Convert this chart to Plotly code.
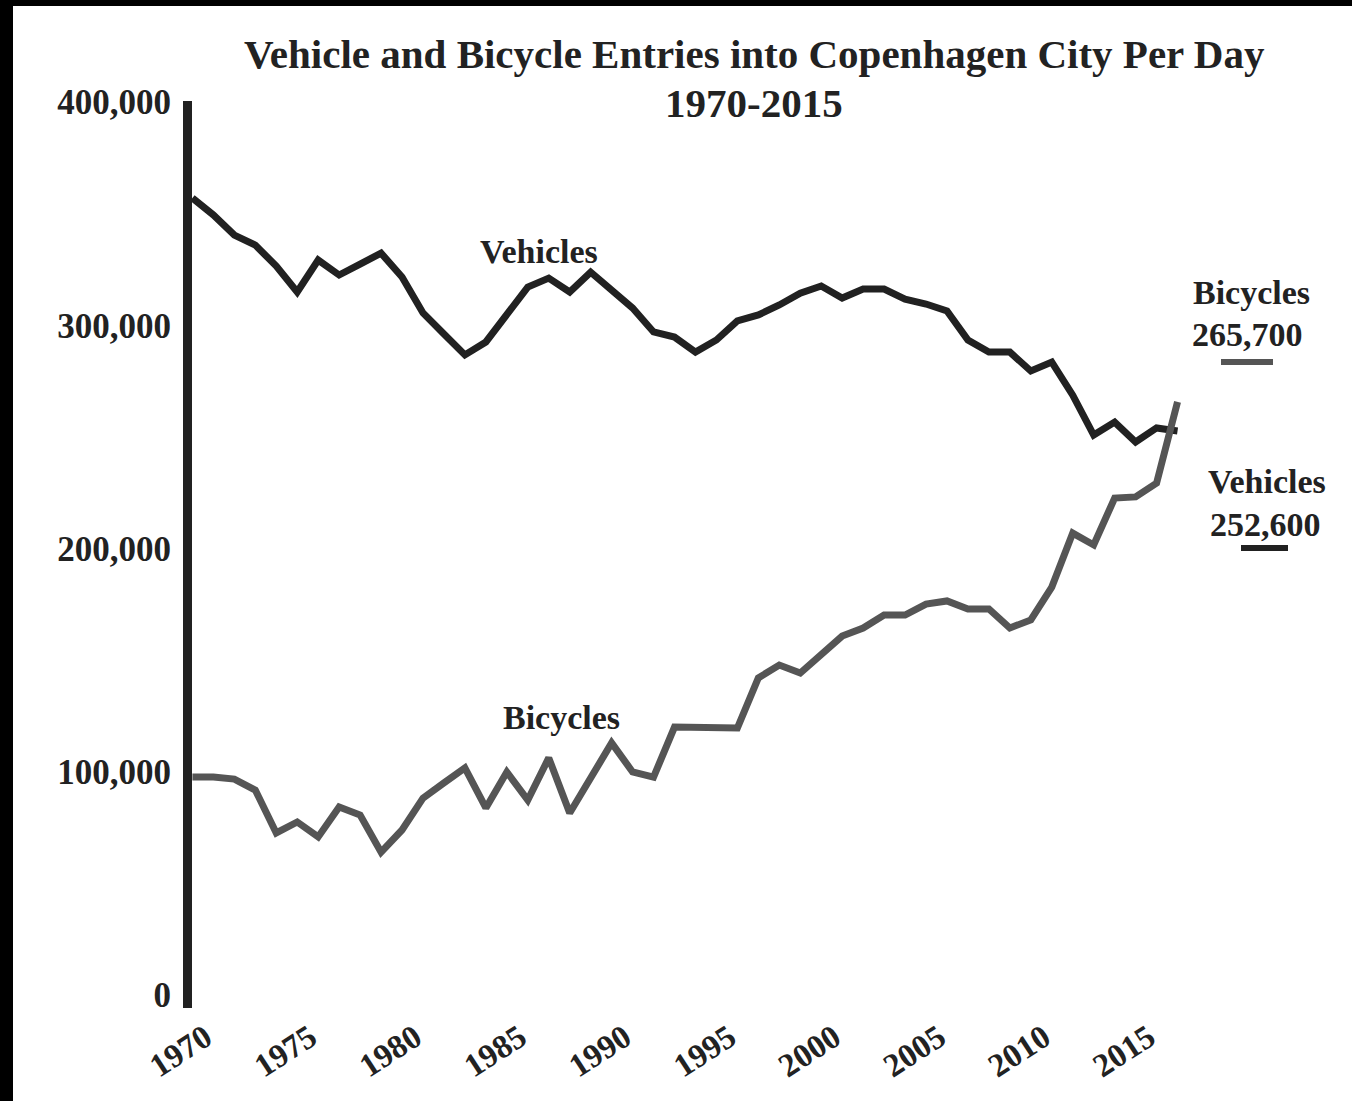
import plotly.graph_objects as go

# ---------------- data ----------------
years = list(range(1970, 2018))
vehicles = [357000, 349400, 340400, 335900, 326500, 314900, 329200, 322500, 327400, 332300,
            321600, 305500, 296100, 286700, 292500, 305000, 317100, 321100, 314900, 323800,
            316200, 307700, 297000, 294700, 288000, 293400, 301900, 304600, 309100, 314400,
            317600, 312200, 316200, 316200, 311700, 309500, 306400, 293400, 288000, 288000,
            279500, 283500, 268700, 250800, 256600, 247700, 254000, 252600]
bicycles = [97600, 97600, 96700, 91800, 72600, 77500, 70800, 84200, 80600, 64000,
            73900, 88200, 95000, 101700, 83800, 99900, 87300, 106200, 81500, 97200,
            112900, 99900, 97600, 120000, 120000, 120000, 119600, 142000, 147800, 144200,
            152700, 160800, 164400, 170200, 170200, 175100, 176500, 172900, 172900, 164400,
            168000, 182700, 206900, 201600, 222600, 223100, 229300, 265700]
x_tick_years = [1970, 1975, 1980, 1985, 1990, 1995, 2000, 2005, 2010, 2015]
y_tick_values = [0, 100000, 200000, 300000, 400000]
y_tick_labels = ["0", "100,000", "200,000", "300,000", "400,000"]
title_line1 = "Vehicle and Bicycle Entries into Copenhagen City Per Day"
title_line2 = "1970-2015"
series_names = ["Vehicles", "Bicycles"]

# ---------------- style ----------------
VEH_COLOR = "#212121"
BIC_COLOR = "#555555"
TXT = "#222222"
FONT = "Liberation Serif"

W, H = 1352, 1101
ML, MR, MT, MB = 192, 12, 101, 93
PW = W - ML - MR
PH = H - MT - MB

fig = go.Figure()
fig.add_trace(go.Scatter(x=years, y=vehicles, mode="lines", name=series_names[0],
                         line=dict(color=VEH_COLOR, width=7), showlegend=False))
fig.add_trace(go.Scatter(x=years, y=bicycles, mode="lines", name=series_names[1],
                         line=dict(color=BIC_COLOR, width=7), showlegend=False))

def px_to_paper_x(px):
    return (px - ML) / PW

def px_to_paper_y(py):
    return (H - MB - py) / PH

shapes = [
    # white page with black frame on the top and left
    dict(type="rect", xref="paper", yref="paper",
         x0=px_to_paper_x(13), x1=px_to_paper_x(1380),
         y0=px_to_paper_y(1130), y1=px_to_paper_y(6),
         fillcolor="white", line=dict(width=0), layer="below"),
    # legend keys
    dict(type="line", xref="paper", yref="paper",
         x0=px_to_paper_x(1221), x1=px_to_paper_x(1273),
         y0=px_to_paper_y(362), y1=px_to_paper_y(362),
         line=dict(color=BIC_COLOR, width=6)),
    dict(type="line", xref="paper", yref="paper",
         x0=px_to_paper_x(1241), x1=px_to_paper_x(1288),
         y0=px_to_paper_y(548), y1=px_to_paper_y(548),
         line=dict(color=VEH_COLOR, width=6)),
]

def ann(text, px, py, size):
    return dict(text=text, xref="paper", yref="paper",
                x=px_to_paper_x(px), y=px_to_paper_y(py),
                xanchor="center", yanchor="middle", showarrow=False,
                font=dict(family=FONT, size=size, color=TXT, weight="bold"))

annotations = [
    ann(title_line1, 754, 54, 41),
    ann(title_line2, 754, 103, 41),
    ann(series_names[0], 539, 252, 34),
    ann(series_names[1], 561, 717, 34),
    ann(series_names[1], 1251, 292, 34),
    ann(f"{bicycles[-1]:,}", 1247, 334, 34),
    ann(series_names[0], 1267, 481, 34),
    ann(f"{vehicles[-1]:,}", 1265, 524, 34),
]

px_per_year = 20.96
x0 = years[0] - 0.02
x1 = x0 + PW / px_per_year
px_per_unit = (995 - 102) / 400000
y0 = -(1008 - 995) / px_per_unit
y1 = y0 + PH / px_per_unit

fig.update_layout(
    width=W, height=H, autosize=False,
    margin=dict(l=ML, r=MR, t=MT, b=MB, pad=0),
    paper_bgcolor="black", plot_bgcolor="white",
    shapes=shapes, annotations=annotations,
    xaxis=dict(range=[x0, x1], showgrid=False, zeroline=False, showline=False,
               tickmode="array", tickvals=x_tick_years,
               ticktext=[str(y) for y in x_tick_years],
               tickangle=-33, ticks="",
               tickfont=dict(family=FONT, size=33, color=TXT, weight="bold"),
               ticklabelstandoff=3, ticklabelshift=13),
    yaxis=dict(range=[y0, y1], showgrid=False, zeroline=False,
               showline=True, linecolor=VEH_COLOR, linewidth=9,
               tickmode="array", tickvals=y_tick_values, ticktext=y_tick_labels,
               ticks="", tickfont=dict(family=FONT, size=35, color=TXT, weight="bold"),
               ticklabelstandoff=5),
)

fig.write_html(
    "out.html",
    config={"displayModeBar": False},
    post_script="document.body.style.margin='0';document.body.style.overflow='hidden';",
)
